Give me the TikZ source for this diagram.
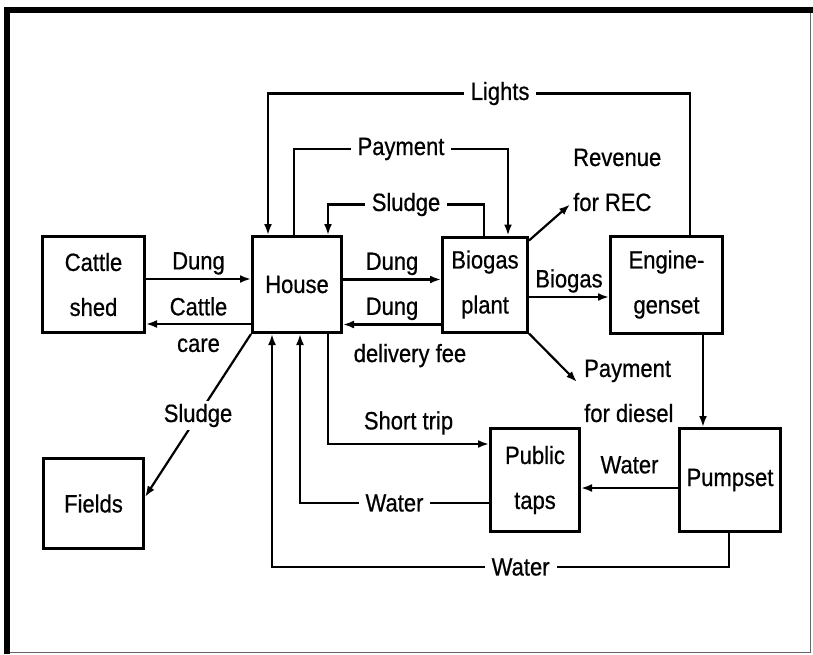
\documentclass[tikz,border=0pt]{standalone}
\usepackage{fontspec}
\setmainfont[FakeStretch=0.88,FakeBold=0.6]{Liberation Sans}
\usetikzlibrary{arrows.meta,positioning}

\begin{document}
\begin{tikzpicture}[
  x=1pt, y=-1pt,
  font=\fontsize{25}{45}\selectfont,
  box/.style={draw,line width=3pt,align=center,minimum width=89pt,minimum height=96pt,inner sep=0pt},
  arr/.style={line width=2.2pt,-{Latex[length=11pt,width=8pt]}},
  lbl/.style={fill=white,inner xsep=7pt,inner ysep=2pt},
  txt/.style={inner sep=2pt,align=left,anchor=west}
]
\useasboundingbox (0,0) rectangle (813,654);
% Frame
\draw[line width=1pt,black!60] (7,9.5) rectangle (810.5,652);
\draw[line width=6pt] (7,654) -- (7,9.5) -- (813,9.5);
% Row 1
\node[box,minimum width=102pt] (cattle) at (93.5,284.5) {Cattle\\shed};
\node[box,right=105pt of cattle] (house) {House};
\node[box,right=98pt of house,minimum width=85pt,minimum height=95pt] (biogas) {Biogas\\plant};
\node[box,right=80pt of biogas,minimum width=112pt,minimum height=97pt] (engine) {Engine-\\genset};
% Row 2
\node[box,below=123pt of cattle,minimum width=100pt,minimum height=90pt] (fields) {Fields};
\node[box,minimum height=103pt] (taps) at (535,480) {Public\\taps};
\node[box,right=97pt of taps,minimum width=101pt,minimum height=103pt] (pump) {Pumpset};
\node[txt] (rev) at (571,180) {Revenue\\for REC};
\node[txt] (diesel) at (582,391) {Payment\\for diesel};

% loops over the top
\draw[arr] ([xshift=23.5pt]engine.north) -- ++(0,-141) -| node[lbl,pos=0.225]{Lights} ([xshift=-29pt]house.north);
\draw[arr] ([xshift=-3pt]house.north) -- ++(0,-86) -| node[lbl,pos=0.25]{Payment} ([xshift=23pt]biogas.north);
\draw[arr] ([xshift=-1pt]biogas.north) -- ++(0,-31) -| node[lbl,pos=0.25]{Sludge} ([xshift=31pt]house.north);

% row 1 links
\draw[arr] ([yshift=5.5pt]cattle.east) -- node[above]{Dung} ([yshift=5.5pt]cattle.east -| house.west);
\draw[arr] ([yshift=-39.5pt]house.west) -- node[above=4pt]{Cattle} node[below=10pt]{care} ([yshift=-39.5pt]house.west -| cattle.east);
\draw[arr] ([yshift=5pt]house.east) -- node[above]{Dung} ([yshift=5pt]house.east -| biogas.west);
\draw[arr] ([yshift=-40pt]biogas.west) -- node[above]{Dung} node[below=15pt,xshift=18pt]{delivery fee} ([yshift=-40pt]biogas.west -| house.east);
\draw[arr] ([yshift=-12.5pt]biogas.east) -- node[above]{Biogas} ([yshift=-12.5pt]biogas.east -| engine.west);
\draw[arr] ([yshift=-5pt]biogas.north east) -- ([shift={(-1pt,9pt)}]rev.south west);
\draw[arr] (biogas.south east) -- ([shift={(-5pt,9pt)}]diesel.west);

% down to the taps and back
\draw[arr] ([xshift=36.5pt]engine.south) -- ([xshift=36.5pt]engine.south |- pump.north);
\draw[arr] ([yshift=-8pt]pump.west) -- node[above=10pt]{Water} ([yshift=-8pt]pump.west -| taps.east);
\draw[arr] ([xshift=31pt]house.south) |- node[above=5pt,pos=0.75]{Short trip} ([yshift=36pt]taps.west);
\draw[arr] ([yshift=-23pt]taps.west) -| node[lbl,pos=0.25]{Water} ([xshift=3pt]house.south);
\draw[arr] ([xshift=-1pt]pump.south) -- ++(0,34) -| node[lbl,pos=0.228]{Water} ([xshift=-25pt]house.south);
\draw[arr] (house.south west) -- node[lbl,inner sep=3pt]{Sludge} ([yshift=6.5pt]fields.east);
\end{tikzpicture}
\end{document}
